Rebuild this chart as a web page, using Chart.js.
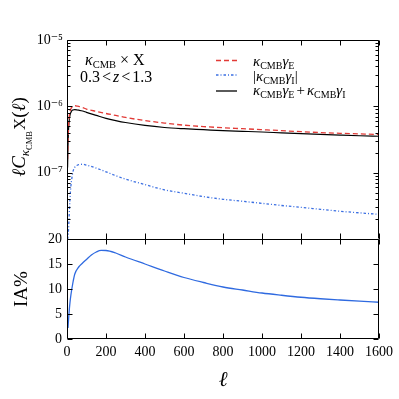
<!DOCTYPE html>
<html>
<head>
<meta charset="utf-8">
<script src="https://cdn.jsdelivr.net/npm/chart.js@4.4.1/dist/chart.umd.min.js"></script>
<style>
  html, body { margin: 0; padding: 0; background: #fff; }
  .panel { position: absolute; left: 0; top: 0; width: 399px; height: 399px; }
</style>
</head>
<body>
<div class="panel"><canvas id="spectraChart" width="399" height="399"></canvas></div>
<div class="panel"><canvas id="iaChart" width="399" height="399"></canvas></div>
<script>
// multipoles for the top panel
const ell = [3, 5, 8, 10, 15, 20, 25, 30, 40, 50, 60, 80, 100, 150, 200, 250, 300, 400, 500, 600, 700, 800, 900, 1000, 1100, 1200, 1300, 1400, 1500, 1600];
// kappa_CMB x gamma_E (red dashed)
const kappaGammaE = [1.6e-7, 3.0e-7, 5.2e-7, 6.4e-7, 8.3e-7, 9.2e-7, 9.7e-7, 1.0e-6, 1.02e-6, 1.01e-6, 1.0e-6, 9.6e-7, 9.1e-7, 8.4e-7, 7.8e-7, 7.3e-7, 6.8e-7, 6.1e-7, 5.6e-7, 5.2e-7, 4.95e-7, 4.75e-7, 4.6e-7, 4.45e-7, 4.3e-7, 4.15e-7, 4.02e-7, 3.92e-7, 3.84e-7, 3.76e-7];
// |kappa_CMB x gamma_I| (blue dash-dot)
const kappaGammaI = [1.0e-8, 1.1e-8, 1.4e-8, 1.9e-8, 3.9e-8, 6.3e-8, 8.3e-8, 1.02e-7, 1.21e-7, 1.28e-7, 1.32e-7, 1.34e-7, 1.3e-7, 1.17e-7, 1.03e-7, 9.0e-8, 8.0e-8, 6.6e-8, 5.5e-8, 4.9e-8, 4.35e-8, 3.97e-8, 3.7e-8, 3.45e-8, 3.2e-8, 3.0e-8, 2.8e-8, 2.62e-8, 2.48e-8, 2.35e-8];
// sum (black)
const kappaTotal = [1.2e-7, 2.5e-7, 4.5e-7, 5.6e-7, 7.3e-7, 8.1e-7, 8.6e-7, 8.8e-7, 8.9e-7, 8.85e-7, 8.75e-7, 8.5e-7, 8.1e-7, 7.3e-7, 6.6e-7, 6.1e-7, 5.7e-7, 5.15e-7, 4.8e-7, 4.6e-7, 4.45e-7, 4.3e-7, 4.2e-7, 4.1e-7, 3.98e-7, 3.87e-7, 3.77e-7, 3.68e-7, 3.6e-7, 3.54e-7];

// bottom panel: IA fraction in percent
const ellIA = [5, 10, 15, 20, 30, 40, 60, 80, 100, 125, 150, 175, 200, 250, 300, 400, 500, 600, 700, 800, 900, 1000, 1100, 1200, 1300, 1400, 1500, 1600];
const iaPercent = [2.2, 5.0, 7.2, 8.8, 11.2, 13.0, 14.4, 15.2, 15.9, 16.8, 17.4, 17.72, 17.7, 17.2, 16.4, 15.0, 13.6, 12.3, 11.3, 10.4, 9.8, 9.2, 8.75, 8.35, 8.05, 7.8, 7.57, 7.35];

// ticks
const xTicks = [0, 200, 400, 600, 800, 1000, 1200, 1400, 1600];
const logTicks = [1e-7, 1e-6, 1e-5];
const logTickLabels = ['10\u207B\u2077', '10\u207B\u2076', '10\u207B\u2075'];
const iaTicks = [0, 5, 10, 15, 20];

const RED = '#e23a36';
const BLUE = '#3b6fe2';
const IA_BLUE = '#2f6ae0';
const MATH = '"Liberation Serif", "DejaVu Serif", serif';
const tickFont = { family: MATH, size: 14 };

const pts = (xs, ys) => xs.map((x, i) => ({ x: x, y: ys[i] }));

// log minor tick positions 2..9 x 10^n
const logMinor = [];
[-8, -7, -6].forEach(n => { for (let k = 2; k <= 9; k++) logMinor.push(k * Math.pow(10, n)); });

// frame + inward ticks on all four sides
function frameTicks(yMajor, yMinor, drawBottom) {
  return {
    id: 'frameTicks',
    afterDraw(chart) {
      const ctx = chart.ctx, a = chart.chartArea, sx = chart.scales.x, sy = chart.scales.y;
      const L = Math.round(a.left) + 0.5, R = Math.round(a.right) - 0.5;
      const T = Math.round(a.top) + 0.5, B = Math.round(a.bottom) - 0.5;
      ctx.save();
      ctx.strokeStyle = '#000';
      ctx.lineWidth = 1;
      ctx.beginPath();
      ctx.moveTo(L, B); ctx.lineTo(L, T); ctx.lineTo(R, T); ctx.lineTo(R, B);
      if (drawBottom) ctx.lineTo(L, B);
      xTicks.forEach(v => {
        const px = Math.round(sx.getPixelForValue(v)) + 0.5;
        ctx.moveTo(px, T); ctx.lineTo(px, T + 5);
        ctx.moveTo(px, B + (drawBottom ? 0 : 1)); ctx.lineTo(px, B - 5);
      });
      yMajor.forEach(v => {
        const py = Math.round(sy.getPixelForValue(v)) + 0.5;
        ctx.moveTo(L, py); ctx.lineTo(L + 5, py);
        ctx.moveTo(R, py); ctx.lineTo(R - 5, py);
      });
      yMinor.forEach(v => {
        const py = Math.round(sy.getPixelForValue(v)) + 0.5;
        ctx.moveTo(L, py); ctx.lineTo(L + 3, py);
        ctx.moveTo(R, py); ctx.lineTo(R - 3, py);
      });
      ctx.stroke();
      ctx.restore();
    }
  };
}

// draw a row of text runs (for subscripts), returns width
function drawRuns(ctx, runs, x, y, measureOnly) {
  let cx = x;
  runs.forEach(r => {
    ctx.font = r.font;
    cx += r.pre || 0;
    if (!measureOnly) ctx.fillText(r.t, cx, y + (r.dy || 0));
    cx += ctx.measureText(r.t).width + (r.post || 0);
  });
  return cx - x;
}

const it = s => 'italic ' + s + 'px ' + MATH;
const rm = s => s + 'px ' + MATH;
const kappaCMB = (big, small) => [{ t: '\u03BA', font: it(big) }, { t: 'CMB', font: rm(small), dy: 3 }];

const topText = {
  id: 'topText',
  afterDraw(chart) {
    const ctx = chart.ctx;
    ctx.save();
    ctx.fillStyle = '#000';
    ctx.textBaseline = 'alphabetic';
    ctx.textAlign = 'left';

    // annotation
    drawRuns(ctx, kappaCMB(16, 10.5).concat([{ t: '\u00D7', font: rm(16), pre: 4, post: 4 }, { t: 'X', font: rm(16) }]), 85, 64.5);
    drawRuns(ctx, [
      { t: '0.3', font: rm(16) }, { t: '<', font: rm(16), pre: 2, post: 2 }, { t: 'z', font: it(16) },
      { t: '<', font: rm(16), pre: 2, post: 2 }, { t: '1.3', font: rm(16) }
    ], 80, 82.3);

    // legend
    const gE = [{ t: '\u03B3', font: it(15) }, { t: 'E', font: rm(10), dy: 3 }];
    const gI = [{ t: '\u03B3', font: it(15) }, { t: 'I', font: rm(10), dy: 3 }];
    const rows = [
      { y: 60.5, color: RED, dash: [5, 3], runs: kappaCMB(15, 10).concat(gE), base: 65.5 },
      { y: 75, color: BLUE, dash: [2.5, 2, 1, 2], runs: [{ t: '|', font: rm(15) }].concat(kappaCMB(15, 10), gI, [{ t: '|', font: rm(15) }]), base: 80.5 },
      { y: 91, color: '#000', dash: [], runs: kappaCMB(15, 10).concat(gE, [{ t: '+', font: rm(15), pre: 2, post: 2 }], kappaCMB(15, 10), gI), base: 94.5 }
    ];
    rows.forEach(r => {
      ctx.strokeStyle = r.color;
      ctx.lineWidth = 1.3;
      ctx.setLineDash(r.dash);
      ctx.beginPath();
      ctx.moveTo(216, r.y); ctx.lineTo(237, r.y);
      ctx.stroke();
      drawRuns(ctx, r.runs, 253, r.base);
    });
    ctx.setLineDash([]);

    // y title, rotated
    const yRuns = [
      { t: '\u2113C', font: it(19) },
      { t: '\u03BA', font: it(13), dy: 4 }, { t: 'CMB', font: rm(8.5), dy: 6.5, post: 1 },
      { t: 'X', font: rm(17) }, { t: '(', font: rm(19) }, { t: '\u2113', font: it(19) }, { t: ')', font: rm(19) }
    ];
    const w = drawRuns(ctx, yRuns, 0, 0, true);
    ctx.translate(25, 137);
    ctx.rotate(-Math.PI / 2);
    drawRuns(ctx, yRuns, -w / 2, 0);
    ctx.restore();
  }
};

const bottomText = {
  id: 'bottomText',
  afterDraw(chart) {
    const ctx = chart.ctx;
    ctx.save();
    ctx.fillStyle = '#000';
    ctx.textBaseline = 'alphabetic';
    ctx.textAlign = 'center';
    ctx.font = it(21);
    ctx.fillText('\u2113', 223, 386);
    ctx.translate(27, 289);
    ctx.rotate(-Math.PI / 2);
    ctx.font = rm(19);
    ctx.fillText('IA%', 0, 0);
    ctx.restore();
  }
};

const near = (a, b) => Math.abs(Math.log10(a) - Math.log10(b)) < 1e-6;

// top panel: spectra on log axis
new Chart(document.getElementById('spectraChart'), {
  type: 'line',
  data: {
    datasets: [
      { data: pts(ell, kappaGammaE), borderColor: RED, borderDash: [5, 3], borderWidth: 1.3 },
      { data: pts(ell, kappaGammaI), borderColor: BLUE, borderDash: [2.5, 2, 1, 2], borderWidth: 1.3 },
      { data: pts(ell, kappaTotal), borderColor: '#000', borderWidth: 1.2 }
    ]
  },
  options: {
    responsive: false, animation: false, devicePixelRatio: 1,
    layout: { padding: { top: 40, right: 20, bottom: 160, left: 0 } },
    elements: { point: { radius: 0 }, line: { cubicInterpolationMode: 'monotone', fill: false } },
    plugins: { legend: { display: false }, tooltip: { enabled: false } },
    scales: {
      x: { type: 'linear', min: 0, max: 1600, display: false },
      y: {
        type: 'logarithmic', min: 1e-8, max: 1e-5,
        afterFit: s => { s.width = 67; },
        grid: { display: false, drawTicks: false }, border: { display: false },
        ticks: {
          autoSkip: false, padding: 4, color: '#000', font: tickFont,
          callback: v => {
            const i = logTicks.findIndex(t => near(t, v));
            return i < 0 ? '' : logTickLabels[i];
          }
        }
      }
    }
  },
  plugins: [frameTicks(logTicks, logMinor, false), topText]
});

// bottom panel: IA percentage
new Chart(document.getElementById('iaChart'), {
  type: 'line',
  data: {
    datasets: [
      { data: pts(ellIA, iaPercent), borderColor: IA_BLUE, borderWidth: 1.3 }
    ]
  },
  options: {
    responsive: false, animation: false, devicePixelRatio: 1,
    layout: { padding: { top: 239, right: 20, bottom: 0, left: 0 } },
    elements: { point: { radius: 0 }, line: { cubicInterpolationMode: 'monotone', fill: false } },
    plugins: { legend: { display: false }, tooltip: { enabled: false } },
    scales: {
      x: {
        type: 'linear', min: 0, max: 1600,
        afterFit: s => { s.height = 60; },
        afterBuildTicks: s => { s.ticks = xTicks.map(v => ({ value: v })); },
        grid: { display: false, drawTicks: false }, border: { display: false },
        ticks: { padding: 5, color: '#000', font: tickFont, maxRotation: 0, autoSkip: false, callback: v => String(v) }
      },
      y: {
        type: 'linear', min: 0, max: 20,
        afterFit: s => { s.width = 67; },
        afterBuildTicks: s => { s.ticks = iaTicks.map(v => ({ value: v })); },
        grid: { display: false, drawTicks: false }, border: { display: false },
        ticks: { padding: 5, color: '#000', font: tickFont, callback: v => String(v) }
      }
    }
  },
  plugins: [frameTicks(iaTicks, [], true), bottomText]
});
</script>
</body>
</html>
